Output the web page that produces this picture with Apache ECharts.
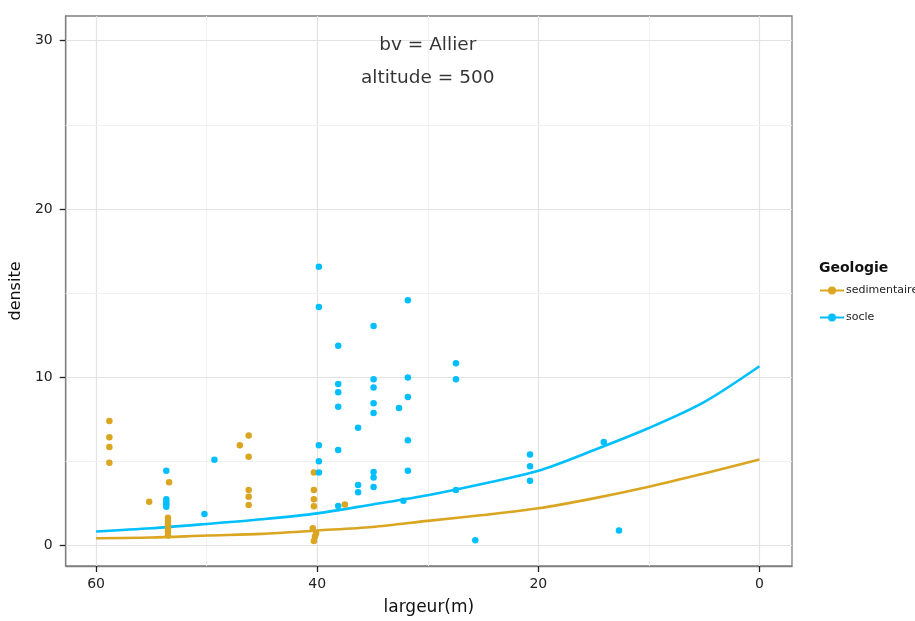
<!DOCTYPE html>
<html>
<head>
<meta charset="utf-8">
<script src="https://cdn.jsdelivr.net/npm/echarts@6/dist/echarts.min.js"></script>
<style>html,body{margin:0;padding:0;background:#fff}#c{width:915px;height:621px}</style>
</head>
<body>
<div id="c"></div>
<script>
// ---- data ----
var seriesNames = ['sedimentaire', 'socle'];
var sedPoints = [
  [58.8, 7.4], [58.8, 6.43], [58.8, 5.86], [58.8, 4.91],
  [55.2, 2.6], [53.4, 3.76],
  [53.5, 1.65], [53.5, 1.45], [53.5, 1.25], [53.5, 1.0], [53.5, 0.8], [53.5, 0.6],
  [47.0, 5.95], [46.2, 6.53], [46.2, 5.28], [46.2, 3.29], [46.2, 2.9], [46.2, 2.4],
  [40.3, 4.34], [40.3, 3.29], [40.3, 2.74], [40.3, 2.33],
  [40.4, 1.02], [40.1, 0.73], [40.2, 0.53], [40.3, 0.27],
  [37.5, 2.44]
];
var soclePoints = [
  [53.65, 4.44], [53.65, 2.75], [53.65, 2.6], [53.65, 2.45], [53.65, 2.3],
  [50.2, 1.87], [49.3, 5.1],
  [39.85, 16.57], [39.85, 14.18], [39.85, 5.95], [39.85, 5.0], [39.85, 4.34],
  [38.1, 11.87], [38.1, 9.6], [38.1, 9.1], [38.1, 8.25], [38.1, 5.68], [38.1, 2.34],
  [36.3, 7.0], [36.3, 3.59], [36.3, 3.17],
  [34.9, 13.04], [34.9, 9.88], [34.9, 9.39], [34.9, 8.46], [34.9, 7.87], [34.9, 4.36], [34.9, 4.04], [34.9, 3.47],
  [32.6, 8.17],
  [31.8, 14.57], [31.8, 9.98], [31.8, 8.82], [31.8, 6.25], [31.8, 4.44],
  [32.2, 2.66],
  [27.45, 10.83], [27.45, 9.88], [27.45, 3.29],
  [25.7, 0.31],
  [20.75, 5.4], [20.75, 4.71], [20.75, 3.85],
  [14.08, 6.15], [12.7, 0.89]
];
var curveX = [60, 55, 50, 45, 40, 35, 30, 25, 20, 15, 10, 5, 0];
var sedCurve = [0.43, 0.47, 0.59, 0.69, 0.89, 1.10, 1.46, 1.81, 2.21, 2.80, 3.49, 4.28, 5.11];
var socleCurve = [0.83, 1.02, 1.28, 1.56, 1.91, 2.44, 2.99, 3.67, 4.44, 5.66, 6.98, 8.52, 10.65];
var xTicks = [0, 20, 40, 60];
var xMinor = [10, 30, 50];
var yTicks = [0, 10, 20, 30];
var yMinor = [5, 15, 25];
var annotations = [[30, 30, 'bv = Allier'], [30, 28, 'altitude = 500']];
var legendTitle = 'Geologie';
var xName = 'largeur(m)';
var yName = 'densite';

// ---- chart ----
var colors = ['#DAA520', '#00BFFF'];
var FONT = 'DejaVu Sans';
var X_MIN = -2.95, X_MAX = 62.75, Y_MIN = -1.22, Y_MAX = 31.47;
var TICK_LEN = 6;

function zip(xs, ys) { return xs.map(function (x, i) { return [x, ys[i]]; }); }

var gridLines = [];
xTicks.forEach(function (v) { gridLines.push({ xAxis: v, lineStyle: { color: '#e3e3e3', width: 1.2, type: 'solid' } }); });
xMinor.forEach(function (v) { gridLines.push({ xAxis: v, lineStyle: { color: '#f1f1f1', width: 1, type: 'solid' } }); });
yTicks.forEach(function (v) { gridLines.push({ yAxis: v, lineStyle: { color: '#e3e3e3', width: 1.2, type: 'solid' } }); });
yMinor.forEach(function (v) { gridLines.push({ yAxis: v, lineStyle: { color: '#f1f1f1', width: 1, type: 'solid' } }); });

function axisBase(ticks, pos) {
  return {
    position: pos,
    axisLine: { show: true, onZero: false, lineStyle: { color: '#808080', width: 1.3 } },
    axisTick: { show: true, inside: false, length: TICK_LEN, customValues: ticks, lineStyle: { color: '#222', width: 1.3 } },
    axisLabel: { customValues: ticks, fontFamily: FONT, fontSize: 14, color: '#222' },
    splitLine: { show: false }
  };
}

var xAx = axisBase(xTicks, 'bottom');
xAx.type = 'value'; xAx.inverse = true; xAx.min = X_MIN; xAx.max = X_MAX;
xAx.name = xName; xAx.nameLocation = 'middle'; xAx.nameGap = 33;
xAx.nameTextStyle = { fontFamily: FONT, fontSize: 17, color: '#111' };
xAx.axisLabel.margin = 11;

var yAx = axisBase(yTicks, 'left');
yAx.type = 'value'; yAx.min = Y_MIN; yAx.max = Y_MAX;
yAx.name = yName; yAx.nameLocation = 'middle'; yAx.nameGap = 36;
yAx.nameTextStyle = { fontFamily: FONT, fontSize: 16, color: '#111' };
yAx.axisLabel.margin = 13;

var chart = echarts.init(document.getElementById('c'), null, { renderer: 'canvas' });

// outside tick marks placed through the axis scales once the chart is laid out
var ticksDrawn = false;
function drawTicks() {
  if (ticksDrawn) return;
  try {
    var g = [];
    xTicks.forEach(function (v) {
      var p = chart.convertToPixel({ xAxisIndex: 0, yAxisIndex: 0 }, [v, Y_MIN]);
      if (p && isFinite(p[0]) && isFinite(p[1])) {
        g.push({ type: 'line', silent: true, z: 50,
          shape: { x1: p[0], y1: p[1], x2: p[0], y2: p[1] + TICK_LEN },
          style: { stroke: '#222', lineWidth: 1.3 } });
      }
    });
    yTicks.forEach(function (v) {
      var p = chart.convertToPixel({ xAxisIndex: 0, yAxisIndex: 0 }, [X_MAX, v]);
      if (p && isFinite(p[0]) && isFinite(p[1])) {
        g.push({ type: 'line', silent: true, z: 50,
          shape: { x1: p[0] - TICK_LEN, y1: p[1], x2: p[0], y2: p[1] },
          style: { stroke: '#222', lineWidth: 1.3 } });
      }
    });
    if (g.length) { ticksDrawn = true; chart.setOption({ graphic: g }); }
  } catch (e) { }
}
chart.on('finished', drawTicks);

chart.setOption({
  animation: false,
  backgroundColor: '#fff',
  color: colors,
  textStyle: { fontFamily: FONT },
  grid: { left: 63, right: 123, top: 16, bottom: 53, show: true, borderColor: '#808080', borderWidth: 1.3, backgroundColor: 'transparent' },
  title: {
    text: legendTitle, left: 814, top: 256,
    textStyle: { fontFamily: FONT, fontSize: 14, fontWeight: 'bold', color: '#111' }
  },
  legend: {
    data: seriesNames, orient: 'vertical', left: 814, top: 280,
    itemWidth: 24, itemHeight: 10, itemGap: 16,
    textStyle: { fontFamily: FONT, fontSize: 11, color: '#222', padding: [0, 0, 0, -3] }
  },
  xAxis: xAx,
  yAxis: yAx,
  series: [
    {
      type: 'line', data: [], silent: true, z: 1,
      markLine: { z: 1, silent: true, symbol: 'none', label: { show: false }, animation: false, data: gridLines }
    },
    {
      name: seriesNames[0], type: 'line', data: zip(curveX, sedCurve), smooth: 0.3,
      symbol: 'circle', symbolSize: 6, showSymbol: false,
      lineStyle: { width: 2.6, color: colors[0] }, itemStyle: { color: colors[0] }, z: 3
    },
    {
      name: seriesNames[1], type: 'line', data: zip(curveX, socleCurve), smooth: 0.3,
      symbol: 'circle', symbolSize: 6, showSymbol: false,
      lineStyle: { width: 2.6, color: colors[1] }, itemStyle: { color: colors[1] }, z: 3
    },
    {
      name: seriesNames[0], type: 'scatter', data: sedPoints, symbolSize: 6.5,
      itemStyle: { color: colors[0], opacity: 1 }, z: 4
    },
    {
      name: seriesNames[1], type: 'scatter', data: soclePoints, symbolSize: 6.5,
      itemStyle: { color: colors[1], opacity: 1 }, z: 4
    },
    {
      type: 'scatter', data: annotations, symbolSize: 0, silent: true, z: 5,
      label: {
        show: true, position: 'inside', offset: [0, 4],
        formatter: function (p) { return p.value[2]; },
        fontFamily: FONT, fontSize: 18.5, color: '#000'
      }
    }
  ]
});
drawTicks();
</script>
</body>
</html>
